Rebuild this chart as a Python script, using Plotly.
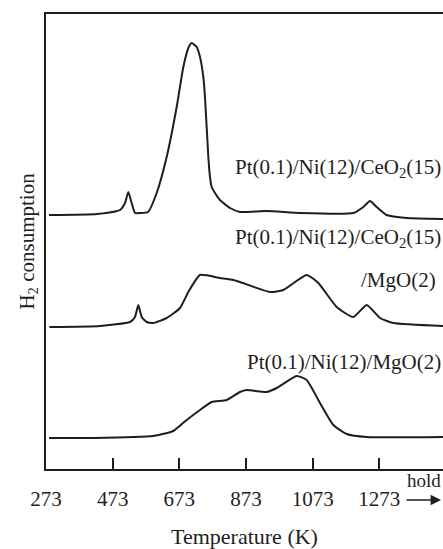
import plotly.graph_objects as go

# Temperature (K) and H2 consumption (arbitrary units, stacked offsets as drawn)
t_ceo2 = [282, 426, 495, 510, 520, 530, 540, 555, 579, 605, 635, 665, 685, 700, 710, 725, 735, 745,
          750, 760, 765, 770, 780, 795, 825, 855, 935, 1035, 1195, 1225, 1245, 1265, 1295, 1355, 1464]
i_ceo2 = [254, 255, 259, 266, 277, 266, 256, 256, 257, 276, 312, 362, 402, 421, 426, 422, 412, 392,
          372, 312, 292, 282, 276, 269, 261, 257, 258, 256, 256, 262, 268, 262, 254, 251, 250]

t_ceo2_mgo = [283, 435, 525, 540, 550, 560, 575, 595, 635, 675, 700, 735, 795, 835, 855, 945, 985,
              1055, 1090, 1145, 1195, 1235, 1275, 1315, 1465]
i_ceo2_mgo = [142, 143, 147, 152, 164, 152, 147, 146, 151, 161, 177, 194, 191, 189, 187, 177, 179,
              194, 186, 162, 152, 164, 151, 146, 143]

t_mgo = [282, 415, 595, 655, 695, 735, 770, 815, 855, 875, 935, 965, 1025, 1055, 1095, 1135, 1175,
         1235, 1465]
i_mgo = [31, 31, 33, 38, 49, 59, 67, 69, 77, 79, 77, 81, 93, 89, 66, 44, 35, 32, 32]

tick_vals = [273, 473, 673, 873, 1073, 1273]
tick_text = ["273", "473", "673", "873", "1073", "1273"]

labels = [
    ("Pt(0.1)/Ni(12)/CeO<sub>2</sub>(15)", 301),
    ("Pt(0.1)/Ni(12)/CeO<sub>2</sub>(15)", 231),
    ("/MgO(2)", 189),
    ("Pt(0.1)/Ni(12)/MgO(2)", 107),
]

FONT = "Liberation Serif"
INK = "#1e1e1e"

fig = go.Figure()
for t, i in [(t_ceo2, i_ceo2), (t_ceo2_mgo, i_ceo2_mgo), (t_mgo, i_mgo)]:
    fig.add_trace(go.Scatter(x=t, y=i, mode="lines",
                             line=dict(color=INK, width=2, shape="spline", smoothing=0.5),
                             showlegend=False, hoverinfo="skip"))

for k, (txt, yv) in enumerate(labels):
    fig.add_annotation(x=1.0 if k != 2 else 0.988, xref="paper", y=yv, yref="y", text=txt,
                       showarrow=False, xanchor="right", yanchor="middle",
                       font=dict(family=FONT, size=21, color=INK))

# hold arrow
fig.add_annotation(x=1458, xref="x", y=-0.068, yref="paper", ax=-36, ay=0, text="",
                   showarrow=True, arrowhead=2, arrowsize=1.3, arrowwidth=1.6, arrowcolor=INK)
fig.add_annotation(x=1407, xref="x", y=-0.026, yref="paper", text="hold", showarrow=False,
                   xanchor="center", yanchor="middle", font=dict(family=FONT, size=19, color=INK))

fig.update_layout(
    width=443, height=549,
    margin=dict(l=46, r=0, t=14, b=80),
    paper_bgcolor="white", plot_bgcolor="white",
    font=dict(family=FONT, size=21, color=INK),
    xaxis=dict(range=[273, 1464], tickvals=tick_vals, ticktext=tick_text,
               ticks="inside", ticklen=11, tickwidth=1.5, tickcolor=INK,
               showline=True, linecolor=INK, linewidth=2, mirror=True,
               showgrid=False, zeroline=False, ticklabelstandoff=10,
               title=dict(text="Temperature (K)", font=dict(family=FONT, size=22), standoff=20),
               tickfont=dict(family=FONT, size=21)),
    yaxis=dict(range=[0, 455], showticklabels=False, ticks="",
               showline=True, linecolor=INK, linewidth=2, mirror=False,
               showgrid=False, zeroline=False,
               title=dict(text="H<sub>2</sub> consumption", font=dict(family=FONT, size=21),
                          standoff=4)),
)

fig.write_html("out.html")
